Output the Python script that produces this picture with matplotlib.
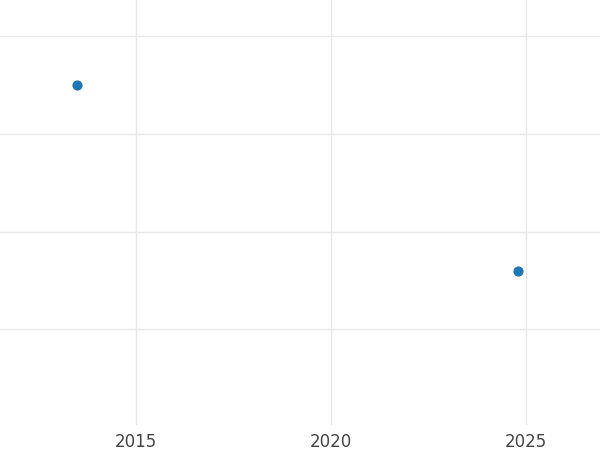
import matplotlib
matplotlib.use("Agg")
import matplotlib.pyplot as plt

years = [2013.48, 2024.79]
values = [3.5, 1.6]
xticks = [2015, 2020, 2025]
yticks = [1, 2, 3, 4]

fig = plt.figure(figsize=(6, 4.5), dpi=100)
ax = fig.add_axes([0, 25/450, 1, 425/450])
ax.scatter(years, values, s=40, color="#1f77b4", zorder=3)
ax.set_xlim(2011.51, 2026.9)
ax.set_ylim(0.02, 4.37)
ax.set_xticks(xticks)
ax.set_xticklabels([str(t) for t in xticks], fontsize=12, color="#444444")
ax.set_yticks(yticks)
ax.set_yticklabels([])
ax.tick_params(length=0)
ax.tick_params(axis="x", pad=6)
ax.grid(True, color="#e8e8e8", linewidth=1)
ax.set_axisbelow(True)
for s in ax.spines.values():
    s.set_visible(False)
fig.savefig("out.png")
